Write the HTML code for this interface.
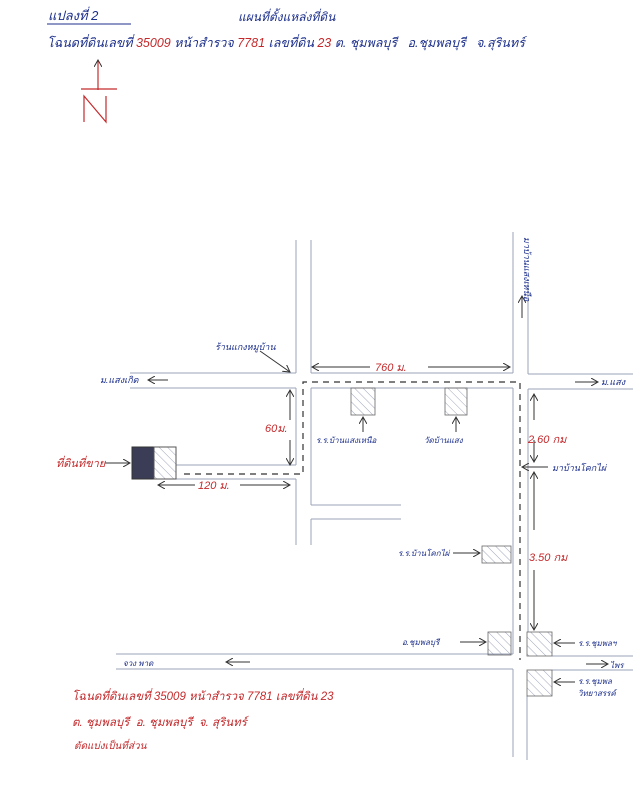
<!DOCTYPE html>
<html><head><meta charset="utf-8"><style>
html,body{margin:0;padding:0;background:#fff;}
svg{display:block;}
text{font-family:"Liberation Sans","Noto Sans CJK SC",sans-serif;font-style:italic;}
.b{fill:#1c2f8c;font-size:10px;}
.r{fill:#c42a2c;font-size:10px;}
</style></head><body>
<svg width="633" height="800" viewBox="0 0 633 800" xmlns="http://www.w3.org/2000/svg">
<defs>
<pattern id="h" width="6" height="6" patternUnits="userSpaceOnUse" patternTransform="rotate(-45)">
<line x1="0" y1="0" x2="0" y2="6" stroke="#8890a8" stroke-width="0.8"/></pattern>
<marker id="a" markerWidth="8" markerHeight="8" refX="7" refY="4" orient="auto" markerUnits="userSpaceOnUse">
<path d="M0,0 L7,4 L0,8" fill="none" stroke="#333" stroke-width="1"/></marker>
</defs>
<text x="48" y="20" class="b" style="font-size:13px">แปลงที่ 2</text>
<line x1="47" y1="24" x2="131" y2="24" stroke="#1c2f8c" stroke-width="1"/>
<text x="238" y="21" class="b" style="font-size:12px">แผนที่ตั้งแหล่งที่ดิน</text>
<text x="47" y="47" class="b" style="font-size:12.5px">โฉนดที่ดินเลขที่ <tspan fill="#c42a2c">35009</tspan> หน้าสำรวจ <tspan fill="#c42a2c">7781</tspan> เลขที่ดิน <tspan fill="#c42a2c">23</tspan> ต. ชุมพลบุรี &#160; อ.ชุมพลบุรี &#160; จ.สุรินทร์</text>
<line x1="98" y1="90" x2="98" y2="60" stroke="#c42a2c" stroke-width="1.2" marker-end="url(#a)"/>
<line x1="81" y1="89" x2="117" y2="89" stroke="#c42a2c" stroke-width="1.2"/>
<path d="M84,122 L84,96 L106,122 L106,96" fill="none" stroke="#c42a2c" stroke-width="1.2"/>
<g stroke="#9aa3b8" stroke-width="1" fill="none">
<line x1="296" y1="240" x2="296" y2="373"/>
<line x1="311" y1="240" x2="311" y2="373"/>
<line x1="513" y1="232" x2="513" y2="373"/>
<line x1="528" y1="283" x2="528" y2="374"/>
<line x1="130" y1="373" x2="296" y2="373"/>
<line x1="311" y1="373" x2="513" y2="373"/>
<line x1="528" y1="374" x2="633" y2="374"/>
<line x1="130" y1="388" x2="296" y2="388"/>
<line x1="311" y1="388" x2="513" y2="388"/>
<line x1="528" y1="389" x2="633" y2="389"/>
<line x1="296" y1="388" x2="296" y2="465"/>
<line x1="176" y1="465" x2="296" y2="465"/>
<line x1="176" y1="479" x2="296" y2="479"/>
<line x1="296" y1="479" x2="296" y2="545"/>
<line x1="311" y1="388" x2="311" y2="505"/>
<line x1="311" y1="519" x2="311" y2="545"/>
<line x1="311" y1="505" x2="401" y2="505"/>
<line x1="311" y1="519" x2="401" y2="519"/>
<line x1="513" y1="388" x2="513" y2="654"/>
<line x1="528" y1="389" x2="528" y2="632"/>
<line x1="116" y1="654" x2="513" y2="654"/>
<line x1="552" y1="656" x2="633" y2="656"/>
<line x1="116" y1="669" x2="513" y2="669"/>
<line x1="552" y1="670" x2="633" y2="670"/>
<line x1="513" y1="669" x2="513" y2="757"/>
<line x1="527" y1="696" x2="527" y2="760"/>
</g>
<path d="M184,474 L303,474 L303,382 L520,382 L520,660" fill="none" stroke="#333" stroke-width="1.2" stroke-dasharray="6,5"/>
<rect x="132" y="447" width="22" height="32" fill="#3a3d55" stroke="#333"/>
<rect x="154" y="447" width="22" height="32" fill="url(#h)" stroke="#555"/>
<g stroke="#666" stroke-width="0.8" fill="url(#h)">
<rect x="351" y="388" width="24" height="27"/>
<rect x="445" y="388" width="22" height="27"/>
<rect x="482" y="546" width="29" height="17"/>
<rect x="488" y="632" width="23" height="23"/>
<rect x="527" y="632" width="25" height="24"/>
<rect x="527" y="670" width="25" height="26"/>
</g>
<g stroke="#333" stroke-width="1" fill="none">
<line x1="370" y1="367" x2="312" y2="367" marker-end="url(#a)"/>
<line x1="428" y1="367" x2="510" y2="367" marker-end="url(#a)"/>
<line x1="290" y1="420" x2="290" y2="390" marker-end="url(#a)"/>
<line x1="290" y1="440" x2="290" y2="465" marker-end="url(#a)"/>
<line x1="195" y1="485" x2="158" y2="485" marker-end="url(#a)"/>
<line x1="240" y1="485" x2="290" y2="485" marker-end="url(#a)"/>
<line x1="534" y1="420" x2="534" y2="394" marker-end="url(#a)"/>
<line x1="534" y1="440" x2="534" y2="462" marker-end="url(#a)"/>
<line x1="534" y1="530" x2="534" y2="472" marker-end="url(#a)"/>
<line x1="534" y1="570" x2="534" y2="630" marker-end="url(#a)"/>
<line x1="548" y1="467" x2="522" y2="467" marker-end="url(#a)"/>
<line x1="260" y1="351" x2="290" y2="372" marker-end="url(#a)"/>
<line x1="168" y1="380" x2="148" y2="380" marker-end="url(#a)"/>
<line x1="575" y1="382" x2="598" y2="382" marker-end="url(#a)"/>
<line x1="522" y1="318" x2="522" y2="296" marker-end="url(#a)"/>
<line x1="363" y1="432" x2="363" y2="417" marker-end="url(#a)"/>
<line x1="456" y1="432" x2="456" y2="417" marker-end="url(#a)"/>
<line x1="105" y1="463" x2="130" y2="463" marker-end="url(#a)"/>
<line x1="453" y1="553" x2="480" y2="553" marker-end="url(#a)"/>
<line x1="460" y1="642" x2="486" y2="642" marker-end="url(#a)"/>
<line x1="575" y1="643" x2="554" y2="643" marker-end="url(#a)"/>
<line x1="575" y1="682" x2="554" y2="682" marker-end="url(#a)"/>
<line x1="250" y1="662" x2="226" y2="662" marker-end="url(#a)"/>
<line x1="586" y1="664" x2="608" y2="664" marker-end="url(#a)"/>
</g>
<text x="215" y="350" class="b" style="font-size:9px">ร้านแกงหมูบ้าน</text>
<text x="100" y="383" class="b" style="font-size:9px">ม.แสงเกิด</text>
<text x="601" y="385" class="b" style="font-size:9px">ม.แสง</text>
<text x="0" y="0" class="b" style="font-size:9px" transform="translate(524,237) rotate(90)">มาบ้านแสงเหนือ</text>
<text x="375" y="371" class="r" style="font-size:11px">760 ม.</text>
<text x="265" y="432" class="r" style="font-size:11px">60ม.</text>
<text x="198" y="489" class="r" style="font-size:11px">120 ม.</text>
<text x="56" y="467" class="r" style="font-size:11px">ที่ดินที่ขาย</text>
<text x="316" y="443" class="b" style="font-size:8px">ร.ร.บ้านแสงเหนือ</text>
<text x="424" y="443" class="b" style="font-size:8px">วัดบ้านแสง</text>
<text x="528" y="443" class="r" style="font-size:11px">2.60 กม</text>
<text x="552" y="471" class="b" style="font-size:9px">มาบ้านโคกไผ่</text>
<text x="398" y="556" class="b" style="font-size:8px">ร.ร.บ้านโคกไผ่</text>
<text x="529" y="561" class="r" style="font-size:11px">3.50 กม</text>
<text x="402" y="645" class="b" style="font-size:8px">อ.ชุมพลบุรี</text>
<text x="578" y="646" class="b" style="font-size:8px">ร.ร.ชุมพลฯ</text>
<text x="123" y="666" class="b" style="font-size:8px">จวง พาด</text>
<text x="610" y="668" class="b" style="font-size:8px">ไพร</text>
<text x="578" y="684" class="b" style="font-size:8px">ร.ร.ชุมพล</text>
<text x="578" y="696" class="b" style="font-size:8px">วิทยาสรรค์</text>
<text x="72" y="700" class="r" style="font-size:11.5px">โฉนดที่ดินเลขที่ 35009 หน้าสำรวจ 7781 เลขที่ดิน 23</text>
<text x="72" y="726" class="r" style="font-size:11.5px">ต. ชุมพลบุรี &#160;อ. ชุมพลบุรี &#160;จ. สุรินทร์</text>
<text x="74" y="749" class="r" style="font-size:10px">ตัดแบ่งเป็นที่ส่วน</text>
</svg>
</body></html>
